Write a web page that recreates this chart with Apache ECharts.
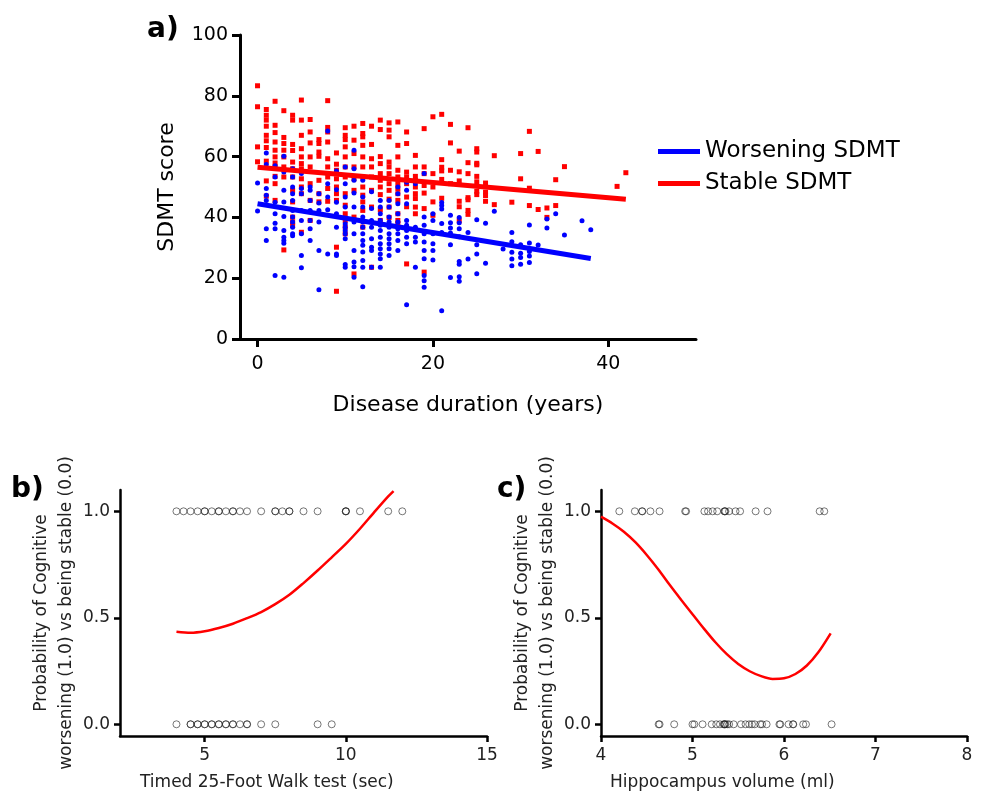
<!DOCTYPE html>
<html><head><meta charset="utf-8">
<script src="https://cdn.jsdelivr.net/npm/echarts@6/dist/echarts.min.js"></script>
<style>html,body{margin:0;padding:0;background:#fff}#c{width:981px;height:803px}</style>
</head><body><div id="c"></div>
<script>
// ---- Panel a: SDMT score vs disease duration (years) ----
const stablePoints = [
[0,83.3],[0,76.4],[0,63.2],[0,58.3],
[1,75.5],[1,73.6],[1,72],[1,70],[1,67],[1,65.2],[1,63],[1,58.5],[1,52],[1,47],
[2,78.2],[2,70.3],[2,67.9],[2,64.8],[2,62.1],[2,59.9],[2,57.9],[2,56.6],[2,53.5],[2,51.1],[2,45.6],
[3,75.1],[3,66.3],[3,64.3],[3,62.1],[3,59.9],[3,56.6],[3,53.3],[3,29.3],
[4,73.6],[4,72],[4,64],[4,62],[4,58.2],[4,56],[4,53.3],[4,48.9],[4,45.1],[4,40.1],[4,38.5],[4,37.4],
[5,78.6],[5,72],[5,67],[5,62.6],[5,59.9],[5,57.7],[5,56],[5,52.7],[5,50],[5,47.8],[5,35.1],
[6,72.2],[6,68.1],[6,64.5],[6,59.9],[6,56.6],[6,51.1],[6,45.6],[6,39],
[7,65.6],[7,64.3],[7,61.5],[7,60.1],[7,52.2],[7,47.8],[7,45.1],
[8,78.4],[8,69.6],[8,68.1],[8,64.8],[8,59.3],[8,56.6],[8,53.3],[8,49.5],[8,45.3],
[9,61.2],[9,57.5],[9,55.5],[9,52.7],[9,50],[9,47.8],[9,45.6],[9,30.2],[9,15.7],
[10,69.5],[10,67],[10,65.6],[10,63.2],[10,59.9],[10,56.6],[10,53.3],[10,47.8],[10,44],[10,41.2],[10,39],[10,36.8],[10,34.6],
[11,70],[11,65.4],[11,61],[11,56.6],[11,52.7],[11,48.9],[11,40.1],[11,21.4],
[12,70.9],[12,67.6],[12,66.5],[12,63.7],[12,59.9],[12,56.6],[12,53.3],[12,50],[12,47.3],[12,45.1],[12,42.3],[12,36.8],
[13,70],[13,64],[13,59.3],[13,56.6],[13,53.3],[13,48.9],[13,43.4],[13,23.6],
[14,72],[14,68.9],[14,60],[14,57.7],[14,54.4],[14,52.2],[14,50],[14,47.5],[14,42.5],[14,39],
[15,71.1],[15,68.7],[15,66.5],[15,58.2],[15,56.6],[15,54.4],[15,51.1],[15,48.9],[15,46],[15,43.4],[15,40],
[16,71.4],[16,63.7],[16,59.9],[16,55.5],[16,53.3],[16,51.1],[16,49.5],[16,47.8],[16,45.6],[16,41.2],[16,39],[16,37.9],
[17,68.1],[17,64.3],[17,54.9],[17,53.3],[17,51.1],[17,46.7],[17,43.5],[17,24.7],
[18,60.4],[18,56.6],[18,53.5],[18,52.2],[18,50],[18,47.8],[18,46.2],[18,43.4],[18,41.2],
[19,69.2],[19,56.6],[19,54.4],[19,50.5],[19,48],[19,42.9],[19,22],
[20,73.1],[20,54.4],[20,50],[20,45.1],[20,40.7],
[21,73.9],[21,59],[21,56.5],[21,55.3],[21,52.5],[21,46.3],
[22,70.6],[22,64.5],[22,55.5],[22,51.1],
[23,61.8],[23,55],[23,52],[23,45.3],[23,43.5],[23,38.9],
[24,69.5],[24,58],[24,54.4],[24,46.5],[24,45.8],[24,42.3],[24,41],
[25,62.6],[25,61.5],[25,57.8],[25,57.3],[25,53.5],[25,51.7],[25,48.6],[25,47.5],
[26,51.3],[26,48.3],[26,47.2],[26,45.3],
[27,60.3],[27,44.2],[29,45],[30,61],[30,52.7],[31,68.3],[31,49.6],[31,43.9],
[32,61.7],[32,42.6],[33,43.1],[33,40],[34,52.4],[34,43.9],[35,56.7],[41,50.2],[42,54.7]
];
const worseningPoints = [
[0,51.3],[0,42.1],
[1,61.2],[1,57.4],[1,49.5],[1,47.3],[1,45.6],[1,36.3],[1,32.4],
[2,57],[2,53.3],[2,45],[2,41.2],[2,38.1],[2,36.3],[2,20.9],
[3,60.1],[3,54.9],[3,48.9],[3,45.1],[3,40.3],[3,35.7],[3,33.5],[3,32.4],[3,31.5],[3,20.3],
[4,56],[4,53.3],[4,50],[4,47.8],[4,45.6],[4,42.3],[4,40.1],[4,38.5],[4,36.8],[4,34.6],[4,34],
[5,54.4],[5,49.5],[5,47.8],[5,42.3],[5,39],[5,34.6],[5,27.5],[5,23.4],
[6,50],[6,48.9],[6,45.6],[6,42.3],[6,39],[6,36.3],[6,32.4],
[7,47.8],[7,44.7],[7,42.3],[7,38.5],[7,29.1],[7,16.2],
[8,68.4],[8,51.1],[8,46.7],[8,42.5],[8,28],
[9,55.3],[9,49.1],[9,45],[9,41.2],[9,36.8],[9,28],[9,27.5],
[10,56.6],[10,51.1],[10,46.7],[10,43.4],[10,37.9],[10,36.8],[10,35.7],[10,34.6],[10,33],[10,24.5],[10,23.6],
[11,62.1],[11,56],[11,52.2],[11,48],[11,43.4],[11,38.5],[11,34.6],[11,29.1],[11,25.3],[11,23.8],[11,20.3],
[12,52.2],[12,46.7],[12,43.4],[12,40.1],[12,38.5],[12,36.8],[12,34.6],[12,32.4],[12,30.8],[12,28.6],[12,25.8],[12,23.6],[12,17.2],
[13,48.4],[13,42.9],[13,39],[13,36.8],[13,33],[13,30.2],[13,29.1],[13,23.6],
[14,45.6],[14,43.4],[14,41.2],[14,39],[14,37.4],[14,35.7],[14,33.5],[14,31.3],[14,29.7],[14,28],[14,26.4],[14,23.6],
[15,45.6],[15,43.4],[15,40.1],[15,38.5],[15,36.8],[15,34.6],[15,33],[15,31.3],[15,29.7],[15,27.5],
[16,50],[16,47.8],[16,44.5],[16,41.2],[16,38.5],[16,36.3],[16,34.6],[16,32.4],[16,29.1],
[17,51.6],[17,48.9],[17,44.5],[17,39],[17,37.4],[17,35.7],[17,33.5],[17,31.3],[17,11.3],
[18,51.1],[18,36.8],[18,33.5],[18,31.9],[18,23.6],
[19,54.4],[19,40.1],[19,37.4],[19,34.6],[19,31.9],[19,29.1],[19,26.4],[19,20.9],[19,19.2],[19,17],
[20,41.2],[20,39],[20,34.6],[20,31.3],[20,29.1],[20,26],
[21,44.9],[21,43.9],[21,42.8],[21,38],[21,35],[21,9.3],
[22,40.7],[22,38.2],[22,36.5],[22,34.9],[22,31],[22,20.2],
[23,40],[23,38.2],[23,36.3],[23,33.6],[23,25.5],[23,24.6],[23,20.5],[23,19],
[24,35],[24,26.3],[25,39.2],[25,31],[25,28],[25,21.5],[26,38.1],[26,24.9],[27,42],[28,29.6],
[29,35],[29,32],[29,28.5],[29,26.3],[29,24.1],[30,31],[30,28.2],[30,26.8],[30,24.6],
[31,37.5],[31,31.6],[31,28.8],[31,27.3],[31,25.2],[32,30.9],[33,39.5],[33,36.5],[34,41.2],[35,34.2],[37,38.9],[38,35.9]
];
const worseningFit = [[0,44.5],[38,26.5]];
const stableFit = [[0,56.5],[42,46]];
const aXTicks = [0,20,40];

// ---- Panel b: Timed 25-Foot Walk test ----
const bWorseningX = [4,4.25,4.5,4.75,5,5,5.25,5.5,5.5,5.75,6,6,6.25,6.5,7,7.5,7.5,7.75,8,8,8.5,9,10,10,10,10.5,11.5,12];
const bStableX = [4,4.5,4.5,4.75,4.75,5,5,5.25,5.25,5.5,5.5,5.75,5.75,6,6,6.25,6.5,6.5,7,7.5,9,9.5];
const bCurve = [[4.0,0.435],[4.5,0.43],[5.0,0.437],[5.5,0.452],[6.0,0.472],[6.5,0.498],[7.0,0.527],[7.5,0.564],[8.0,0.608],[8.5,0.663],[9.0,0.722],[9.5,0.784],[10.0,0.847],[10.5,0.918],[11.0,0.995],[11.5,1.07],[11.69,1.095]];
const bXTicks = [5,10,15];

// ---- Panel c: Hippocampus volume (ml) ----
const cWorseningX = [4.2,4.37,4.45,4.45,4.54,4.64,4.92,4.93,5.13,5.17,5.22,5.27,5.35,5.35,5.36,5.4,5.47,5.52,5.69,5.82,6.39,6.44];
const cStableX = [4.63,4.64,4.8,5.0,5.02,5.11,5.21,5.26,5.3,5.34,5.35,5.35,5.36,5.38,5.4,5.45,5.53,5.58,5.62,5.65,5.68,5.74,5.76,5.81,5.95,5.96,6.05,6.1,6.1,6.21,6.24,6.52];
const cCurve = [[4.0,0.975],[4.125,0.943],[4.25,0.904],[4.375,0.855],[4.5,0.795],[4.625,0.728],[4.75,0.655],[4.875,0.585],[5.0,0.517],[5.125,0.449],[5.25,0.385],[5.375,0.329],[5.5,0.283],[5.625,0.249],[5.75,0.226],[5.875,0.213],[6.0,0.216],[6.125,0.236],[6.25,0.276],[6.375,0.338],[6.51,0.427]];
const probTicks = [0,0.5,1];

const FONT = 'DejaVu Sans';
function axisBase(w, tickLen){
  return {
    axisLine:{show:true,onZero:false,lineStyle:{color:'#000',width:w}},
    axisTick:{show:true,inside:false,length:tickLen,lineStyle:{color:'#000',width:w}},
    splitLine:{show:false}
  };
}
const chart = echarts.init(document.getElementById('c'), null, {renderer:'canvas'});
const probName = 'Probability of Cognitive\nworsening (1.0) vs being stable (0.0)';
const circleStyle = {color:'rgba(0,0,0,0)', borderColor:'rgba(30,30,30,0.6)', borderWidth:1, opacity:1};

chart.setOption({
  animation:false,
  backgroundColor:'#fff',
  textStyle:{fontFamily:FONT},
  grid:[
    {left:240, top:35, width:456, height:304},
    {left:120, top:490, width:367, height:246},
    {left:601, top:490, width:366, height:246}
  ],
  xAxis:[
    Object.assign(axisBase(3,8),{gridIndex:0,type:'value',min:-2,max:50,
      axisTick:{show:true,length:8,customValues:aXTicks,lineStyle:{color:'#000',width:3}},
      axisLabel:{customValues:aXTicks,fontSize:19,color:'#000',margin:16,fontFamily:FONT},
      name:'Disease duration (years)',nameLocation:'middle',nameGap:55,
      nameTextStyle:{fontSize:22,color:'#000',fontFamily:FONT}}),
    Object.assign(axisBase(2.5,6),{gridIndex:1,type:'value',min:2,max:15,
      axisTick:{show:true,length:6,customValues:bXTicks,lineStyle:{color:'#000',width:2.5}},
      axisLabel:{customValues:bXTicks,fontSize:17,color:'#222',margin:11,fontFamily:FONT}}),
    Object.assign(axisBase(2.5,6),{gridIndex:2,type:'value',min:4,max:8,interval:1,
      axisLabel:{fontSize:17,color:'#222',margin:11,fontFamily:FONT}})
  ],
  yAxis:[
    Object.assign(axisBase(3,8),{gridIndex:0,type:'value',min:0,max:100,interval:20,
      axisLabel:{fontSize:19,color:'#000',margin:12,fontFamily:FONT},
      name:'SDMT score',nameLocation:'middle',nameGap:62,
      nameTextStyle:{fontSize:22,color:'#000',fontFamily:FONT}}),
    Object.assign(axisBase(2.5,6),{gridIndex:1,type:'value',min:-0.055,max:1.1,
      axisTick:{show:true,length:6,customValues:probTicks,lineStyle:{color:'#000',width:2.5}},
      axisLabel:{customValues:probTicks,fontSize:17,color:'#222',margin:10,fontFamily:FONT,formatter:v=>v.toFixed(1)},
      name:probName,nameLocation:'middle',nameGap:38,
      nameTextStyle:{fontSize:17,color:'#222',lineHeight:25,fontFamily:FONT}}),
    Object.assign(axisBase(2.5,6),{gridIndex:2,type:'value',min:-0.055,max:1.1,
      axisTick:{show:true,length:6,customValues:probTicks,lineStyle:{color:'#000',width:2.5}},
      axisLabel:{customValues:probTicks,fontSize:17,color:'#222',margin:10,fontFamily:FONT,formatter:v=>v.toFixed(1)},
      name:probName,nameLocation:'middle',nameGap:38,
      nameTextStyle:{fontSize:17,color:'#222',lineHeight:25,fontFamily:FONT}})
  ],
  legend:{
    data:['Worsening SDMT','Stable SDMT'],
    orient:'vertical',left:653,top:135,itemWidth:42,itemHeight:5,icon:'rect',itemGap:9,
    textStyle:{fontSize:23,color:'#000',fontFamily:FONT},
    selectedMode:false
  },
  graphic:[
    {type:'text',left:147,top:16,style:{text:'a)',fontSize:28,fontWeight:'bold',fill:'#000',fontFamily:FONT}},
    {type:'text',left:11,top:476,style:{text:'b)',fontSize:28,fontWeight:'bold',fill:'#000',fontFamily:FONT}},
    {type:'text',left:497,top:476,style:{text:'c)',fontSize:28,fontWeight:'bold',fill:'#000',fontFamily:FONT}},
    {type:'text',left:140,top:774,style:{text:'Timed 25-Foot Walk test (sec)',fontSize:17,fill:'#222',fontFamily:FONT}},
    {type:'text',left:610,top:774,style:{text:'Hippocampus volume (ml)',fontSize:17,fill:'#222',fontFamily:FONT}}
  ],
  series:[
    {name:'Stable points',type:'scatter',xAxisIndex:0,yAxisIndex:0,symbol:'rect',symbolSize:5,
      itemStyle:{color:'#ff0000',opacity:1},data:stablePoints,z:2},
    {name:'Worsening points',type:'scatter',xAxisIndex:0,yAxisIndex:0,symbol:'circle',symbolSize:5,
      itemStyle:{color:'#0000ff',opacity:1},data:worseningPoints,z:3},
    {name:'Stable SDMT',type:'line',xAxisIndex:0,yAxisIndex:0,data:stableFit,showSymbol:false,symbol:'none',
      lineStyle:{color:'#ff0000',width:5},itemStyle:{color:'#ff0000'},z:4},
    {name:'Worsening SDMT',type:'line',xAxisIndex:0,yAxisIndex:0,data:worseningFit,showSymbol:false,symbol:'none',
      lineStyle:{color:'#0000ff',width:5},itemStyle:{color:'#0000ff'},z:5},
    {name:'b worsening',type:'scatter',xAxisIndex:1,yAxisIndex:1,symbol:'circle',symbolSize:7,
      itemStyle:circleStyle,data:bWorseningX.map(x=>[x,1])},
    {name:'b stable',type:'scatter',xAxisIndex:1,yAxisIndex:1,symbol:'circle',symbolSize:7,
      itemStyle:circleStyle,data:bStableX.map(x=>[x,0])},
    {name:'b fit',type:'line',xAxisIndex:1,yAxisIndex:1,data:bCurve,smooth:0.3,showSymbol:false,symbol:'none',
      lineStyle:{color:'#ff0000',width:2.5}},
    {name:'c worsening',type:'scatter',xAxisIndex:2,yAxisIndex:2,symbol:'circle',symbolSize:7,
      itemStyle:circleStyle,data:cWorseningX.map(x=>[x,1])},
    {name:'c stable',type:'scatter',xAxisIndex:2,yAxisIndex:2,symbol:'circle',symbolSize:7,
      itemStyle:circleStyle,data:cStableX.map(x=>[x,0])},
    {name:'c fit',type:'line',xAxisIndex:2,yAxisIndex:2,data:cCurve,smooth:0.3,showSymbol:false,symbol:'none',
      lineStyle:{color:'#ff0000',width:2.5}}
  ]
});
</script></body></html>
